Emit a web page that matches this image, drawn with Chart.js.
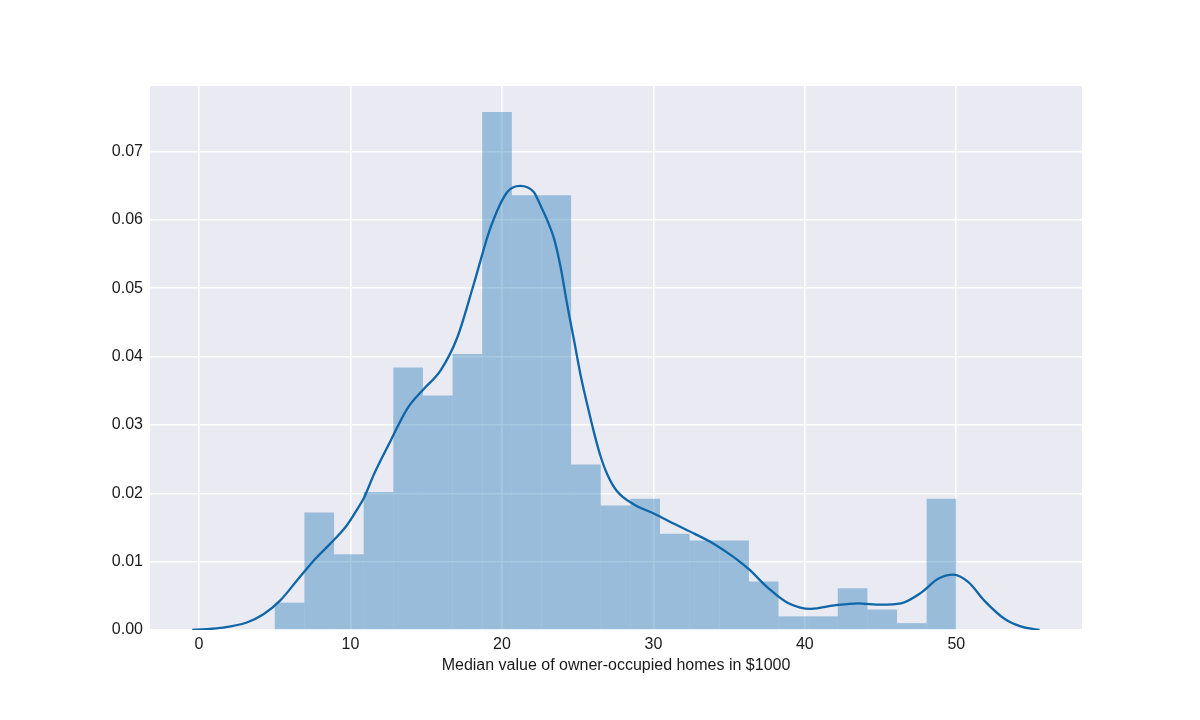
<!DOCTYPE html>
<html>
<head>
<meta charset="utf-8">
<script src="https://cdn.jsdelivr.net/npm/chart.js@4/dist/chart.umd.min.js"></script>
<style>
  html, body { margin: 0; padding: 0; background: #fff; }
</style>
</head>
<body>
<canvas id="medvChart" width="1200" height="720"></canvas>
<script>
// histogram: 23 equal bins between 5 and 50, heights read as density
const binStart = 5;
const binEnd = 50;
const binDensity = [
  0.0040, 0.0172, 0.0111, 0.0202, 0.0384, 0.0343, 0.0404, 0.0758,
  0.0636, 0.0636, 0.0242, 0.0182, 0.0192, 0.0141, 0.0131, 0.0131,
  0.0071, 0.0020, 0.0020, 0.0061, 0.0030, 0.0010, 0.0192
];

// kde curve, points
const kdeX = [
  -0.45, 1.4, 3.15, 4.25, 5.35, 6.45, 7.55, 8.65, 9.75, 10.45, 10.9, 11.55,
  12.65, 13.75, 14.85, 15.95, 17.05, 18.15, 19.25, 20.35, 21.2, 22.1, 22.55,
  23.0, 23.45, 23.9, 24.3, 24.75, 25.2, 25.65, 26.1, 26.5, 26.95, 27.6, 28.7,
  30.05, 31.4, 32.7, 34.0, 35.35, 36.3, 37.55, 38.85, 40.4, 41.95, 43.5,
  45.05, 46.35, 47.7, 48.8, 49.8, 50.8, 51.85, 53.2, 54.3, 55.5
];
const kdeY = [
  0.0000, 0.0003, 0.0011, 0.0023, 0.0043, 0.0072, 0.0101, 0.0126, 0.0153, 0.0177, 0.0194, 0.0228,
  0.0277, 0.0324, 0.0353, 0.0380, 0.0428, 0.0507, 0.0589, 0.0641, 0.0650, 0.0641, 0.0621,
  0.0599, 0.0572, 0.0528, 0.0477, 0.0425, 0.0372, 0.0328, 0.0287, 0.0255, 0.0228, 0.0203, 0.0184,
  0.0170, 0.0155, 0.0141, 0.0126, 0.0106, 0.0089, 0.0062, 0.0040, 0.0031, 0.0036, 0.0039,
  0.0037, 0.0039, 0.0055, 0.0075, 0.0081, 0.0070, 0.0043, 0.0016, 0.0005, 0.0000
];

const xTicks = [0, 10, 20, 30, 40, 50];
const yTicks = [0, 0.01, 0.02, 0.03, 0.04, 0.05, 0.06, 0.07];
const xLabel = 'Median value of owner-occupied homes in $1000';

const binWidth = (binEnd - binStart) / binDensity.length;
const histData = binDensity.map((d, i) => ({ x: binStart + binWidth * (i + 0.5), y: d }));
const kdeData = kdeX.map((x, i) => ({ x: x, y: kdeY[i] }));

const tickFont = { family: "'Liberation Sans', Arial, sans-serif", size: 16 };

const plotBg = {
  id: 'plotBg',
  beforeDraw(chart) {
    const { ctx, chartArea: a } = chart;
    ctx.save();
    ctx.fillStyle = '#eaeaf2';
    ctx.fillRect(a.left, a.top, a.right - a.left, a.bottom - a.top);
    ctx.restore();
  }
};

new Chart(document.getElementById('medvChart'), {
  type: 'line',
  data: {
    datasets: [
      {
        type: 'line',
        data: kdeData,
        borderColor: '#0f66a8',
        borderWidth: 2.3,
        pointRadius: 0,
        fill: false,
        cubicInterpolationMode: 'monotone',
        order: 0
      },
      {
        type: 'bar',
        data: histData,
        backgroundColor: 'rgba(31, 119, 180, 0.4)',
        borderWidth: 0,
        inflateAmount: 0,
        barPercentage: 1,
        categoryPercentage: 1,
        grouped: false,
        order: 1
      }
    ]
  },
  options: {
    responsive: false,
    devicePixelRatio: 1,
    animation: false,
    layout: { padding: { left: 0, top: 86, right: 118, bottom: 45 } },
    plugins: { legend: { display: false }, tooltip: { enabled: false } },
    scales: {
      x: {
        type: 'linear',
        min: -3.24,
        max: 58.3,
        offset: false,
        border: { display: false },
        grid: { color: '#ffffff', lineWidth: 1.6, drawTicks: false, offset: false },
        afterBuildTicks: s => { s.ticks = xTicks.map(v => ({ value: v })); },
        afterFit: s => { s.height = 45; },
        ticks: {
          padding: 5,
          color: '#1a1a1a',
          font: tickFont,
          callback: v => String(v)
        },
        title: {
          display: true,
          text: xLabel,
          color: '#1a1a1a',
          font: tickFont,
          padding: { top: 0, bottom: 0 }
        }
      },
      y: {
        type: 'linear',
        min: 0,
        max: 0.0796,
        border: { display: false },
        grid: { color: '#ffffff', lineWidth: 1.6, drawTicks: false },
        afterBuildTicks: s => { s.ticks = yTicks.map(v => ({ value: v })); },
        afterFit: s => { s.width = 150; },
        ticks: {
          padding: 7,
          color: '#1a1a1a',
          font: tickFont,
          callback: v => v.toFixed(2)
        }
      }
    }
  },
  plugins: [plotBg]
});
</script>
</body>
</html>
